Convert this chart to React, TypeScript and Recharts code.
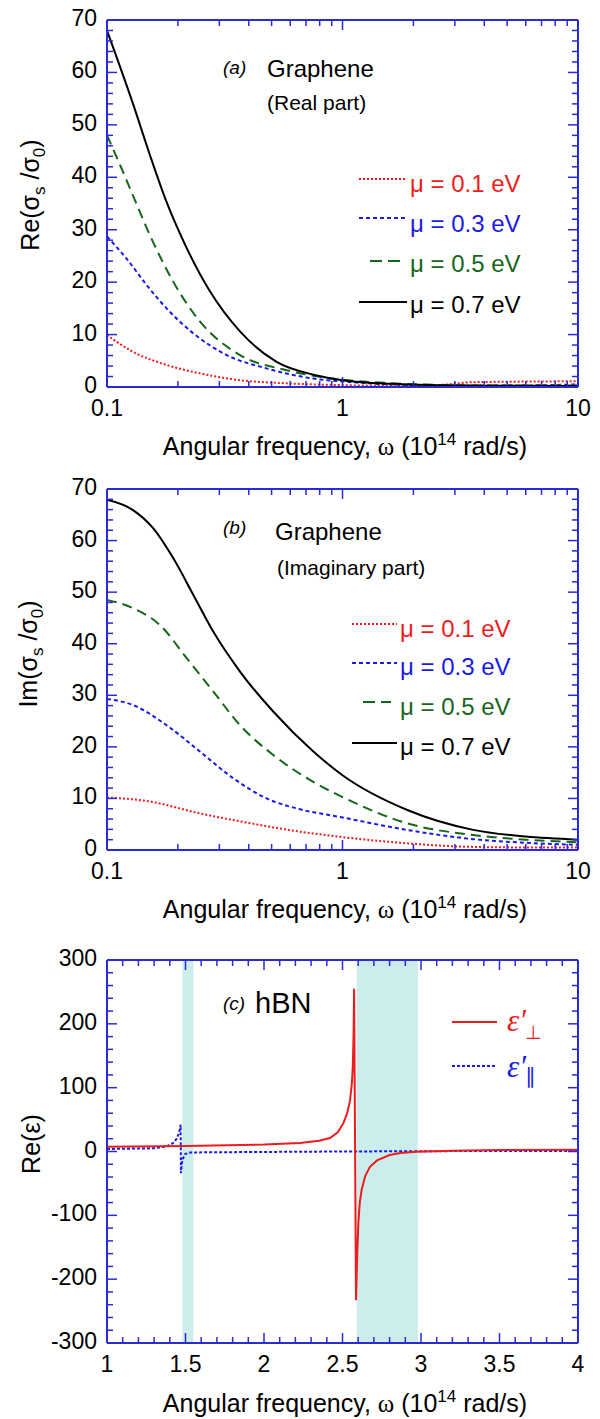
import React from "react";
import { LineChart, Line, XAxis, YAxis, ReferenceArea } from "recharts";

const FONT = "'Liberation Sans', Arial, Helvetica, sans-serif";
const SERIF = "'Liberation Serif', 'Times New Roman', serif";
const AXIS = "#2a2ad8";
const RED = "#ee1c1c";
const BLUE = "#1a1ae6";
const GREEN = "#16661a";
const BLACK = "#000000";

// (a) Re(sigma_s/sigma_0) vs omega, [omega, value]
const reMu01 = [[0.1, 9.9], [0.129, 6.7], [0.179, 4.2], [0.248, 2.6], [0.367, 1.3], [0.579, 0.7], [1, 0.35], [2, 0.2], [2.8, 0.5], [3.5, 0.9], [5, 1.0], [10, 1.1]];
const reMu03 = [[0.1, 28.7], [0.121, 24.5], [0.147, 19.5], [0.179, 15], [0.233, 10.2], [0.322, 6.1], [0.476, 3.55], [0.752, 1.6], [1.04, 1.0], [1.6, 0.5], [3, 0.3], [6, 0.3], [10, 0.5]];
const reMu05 = [[0.1, 48], [0.114, 42.2], [0.129, 36.5], [0.152, 29], [0.191, 20.1], [0.248, 12.5], [0.367, 6.1], [0.579, 3.2], [0.91, 1.6], [1.5, 0.8], [2.5, 0.4], [4, 0.3], [10, 0.3]];
const reMu07 = [[0.1, 68], [0.129, 54], [0.152, 44.3], [0.179, 35.3], [0.218, 26.5], [0.274, 18.2], [0.367, 10.6], [0.525, 4.8], [0.777, 2.2], [1.04, 1.2], [1.6, 0.6], [2.5, 0.35], [4, 0.25], [10, 0.2]];

// (b) Im(sigma_s/sigma_0)
const imMu01 = [[0.1, 10.2], [0.152, 9.4], [0.248, 7.1], [0.405, 5.2], [0.66, 3.55], [1.0, 2.5], [1.874, 1.3], [3.59, 0.6], [6, 0.5], [10, 0.5]];
const imMu03 = [[0.1, 29.3], [0.129, 28.1], [0.179, 24.2], [0.248, 19.1], [0.344, 13.9], [0.476, 10], [0.66, 7.9], [0.976, 6.4], [1.874, 3.9], [3.59, 2.1], [6, 1.4], [10, 1.0]];
const imMu05 = [[0.1, 48.5], [0.129, 46.9], [0.168, 43.6], [0.218, 37.2], [0.283, 30.7], [0.367, 24.2], [0.509, 18.4], [0.752, 13.2], [1.04, 9.9], [1.874, 5.2], [3.59, 2.9], [6, 2.0], [10, 1.5]];
const imMu07 = [[0.1, 67.9], [0.129, 65.9], [0.157, 62.4], [0.191, 56.6], [0.233, 49.4], [0.283, 42.3], [0.367, 34.6], [0.509, 26.8], [0.752, 19.1], [1.0, 14.5], [1.874, 7.8], [3.59, 3.9], [6, 2.6], [10, 2.0]];

const muLabels = ["μ = 0.1 eV", "μ = 0.3 eV", "μ = 0.5 eV", "μ = 0.7 eV"];
const muColors = [RED, BLUE, GREEN, BLACK];
const muDash = ["2 2", "4 3", "10 6", undefined];

// (c) hBN Re(eps)
const epsPerp = [[1, 7.5], [1.5, 8.5], [2, 11], [2.23, 13.5], [2.35, 17], [2.42, 21], [2.47, 30], [2.505, 44], [2.53, 60], [2.548, 80], [2.56, 108], [2.566, 135], [2.571, 190], [2.574, 255], [2.586, -233], [2.594, -160], [2.601, -112], [2.61, -80], [2.622, -60], [2.645, -38], [2.675, -24], [2.72, -14], [2.8, -5.5], [2.87, -2.5], [2.97, -0.3], [3.2, 1.3], [3.5, 2.2], [4, 2.8]];
const epsPar = [[1, 4], [1.3, 5], [1.38, 8], [1.42, 13], [1.444, 20], [1.46, 30], [1.469, 42], [1.471, -34], [1.476, -20], [1.482, -12], [1.497, -4], [1.53, -1.5], [1.8, -1], [2.5, 0], [3, 0.5], [4, 1]];
const bandStart = [1.48, 2.59];
const bandEnd = [1.55, 2.98];

const logTicks = [0.1, 0.2, 0.3, 0.4, 0.5, 0.6, 0.7, 0.8, 0.9, 1, 2, 3, 4, 5, 6, 7, 8, 9, 10];
const logMajor = [0.1, 1, 10];

const steps = (a: number, b: number, d: number) =>
  Array.from({ length: Math.round((b - a) / d) + 1 }, (_, i) => +(a + i * d).toFixed(6));
const near = (v: number, step: number) => Math.abs(v / step - Math.round(v / step)) < 1e-6;

const sigmaTicks = steps(0, 70, 2);
const epsTicks = steps(-300, 300, 20);
const linTicks = steps(1, 4, 0.1);

const toPts = (arr: number[][]) => arr.map(([x, y]) => ({ x, y }));

type Side = "bottom" | "top" | "left" | "right";

function makeTick(side: Side, isMajor: (v: number) => boolean, showLabel: boolean) {
  return (p: any) => {
    const { x, y, payload } = p;
    const v = payload.value;
    const major = isMajor(v);
    const len = major ? 10 : 6;
    let l;
    if (side === "bottom") l = <line x1={x} x2={x} y1={y} y2={y - len} />;
    else if (side === "top") l = <line x1={x} x2={x} y1={y} y2={y + len} />;
    else if (side === "left") l = <line x1={x} x2={x + len} y1={y} y2={y} />;
    else l = <line x1={x} x2={x - len} y1={y} y2={y} />;
    let t = null;
    if (major && showLabel) {
      const s = String(v);
      if (side === "bottom")
        t = <text x={x} y={y + 29} textAnchor="middle" fontSize={23} fontFamily={FONT} fill="#000" stroke="none">{s}</text>;
      else
        t = <text x={x - 10} y={y + 6} textAnchor="end" fontSize={23} fontFamily={FONT} fill="#000" stroke="none">{s}</text>;
    }
    return (
      <g stroke={AXIS} strokeWidth={1.5}>
        {l}
        {t}
      </g>
    );
  };
}

function frame(opts: {
  xLog: boolean;
  xDomain: [number, number];
  xTicks: number[];
  xMajor: (v: number) => boolean;
  yDomain: [number, number];
  yTicks: number[];
  yMajor: (v: number) => boolean;
}) {
  const axisLine = { stroke: AXIS, strokeWidth: 2 };
  const common = { type: "number" as const, allowDataOverflow: true, tickSize: 0, tickMargin: 0, interval: 0 as const, axisLine, tickLine: false };
  const xs = opts.xLog ? { scale: "log" as const } : {};
  return [
    <XAxis key="xb" xAxisId="b" dataKey="x" orientation="bottom" height={1} domain={opts.xDomain} ticks={opts.xTicks} tick={makeTick("bottom", opts.xMajor, true)} {...xs} {...common} />,
    <XAxis key="xt" xAxisId="t" dataKey="x" orientation="top" height={1} domain={opts.xDomain} ticks={opts.xTicks} tick={makeTick("top", opts.xMajor, false)} {...xs} {...common} />,
    <YAxis key="yl" yAxisId="l" orientation="left" width={1} domain={opts.yDomain} ticks={opts.yTicks} tick={makeTick("left", opts.yMajor, true)} {...common} />,
    <YAxis key="yr" yAxisId="r" orientation="right" width={1} domain={opts.yDomain} ticks={opts.yTicks} tick={makeTick("right", opts.yMajor, false)} {...common} />,
  ];
}

function xTitle(cx: number, baseline: number) {
  return (
    <text x={cx} y={baseline} textAnchor="middle" fontSize={25} fontFamily={FONT} fill="#000">
      Angular frequency, <tspan fontFamily={SERIF}>ω</tspan> (10
      <tspan dy={-10} fontSize={17}>14</tspan>
      <tspan dy={10}> rad/s)</tspan>
    </text>
  );
}

function sigmaTitle(prefix: string, cx: number, cy: number) {
  return (
    <text x={cx} y={cy} transform={`rotate(-90 ${cx} ${cy})`} textAnchor="middle" fontSize={25} fontFamily={FONT} fill="#000">
      {prefix}(σ<tspan dy={6} fontSize={17}>s</tspan>
      <tspan dy={-6}> /σ</tspan>
      <tspan dy={6} fontSize={17}>0</tspan>
      <tspan dy={-6}>)</tspan>
    </text>
  );
}

function muLegend(textX: number, lineX1: number, lineX2: number, baselines: number[], lineYs: number[]) {
  return muLabels.map((lab, i) => (
    <g key={"lg" + i}>
      <line
        x1={i === 2 ? lineX1 + 11 : lineX1}
        x2={i === 2 ? lineX2 - 6 : lineX2}
        y1={lineYs[i]}
        y2={lineYs[i]}
        stroke={muColors[i]}
        strokeWidth={2}
        strokeDasharray={i === 2 ? "12 6" : muDash[i]}
      />
      <text x={textX} y={baselines[i]} fontSize={24} fontFamily={FONT} fill={muColors[i]}>
        {lab}
      </text>
    </g>
  ));
}

function muLines(sets: number[][][]) {
  return sets.map((s, i) => (
    <Line
      key={"s" + i}
      xAxisId="b"
      yAxisId="l"
      data={toPts(s)}
      dataKey="y"
      type="monotone"
      stroke={muColors[i]}
      strokeWidth={2}
      strokeDasharray={muDash[i]}
      dot={false}
      activeDot={false}
      isAnimationActive={false}
    />
  ));
}

const logFrame = {
  xLog: true,
  xDomain: [0.1, 10] as [number, number],
  xTicks: logTicks,
  xMajor: (v: number) => logMajor.includes(v),
  yDomain: [0, 70] as [number, number],
  yTicks: sigmaTicks,
  yMajor: (v: number) => near(v, 10),
};

function PanelA() {
  return (
    <LineChart width={600} height={465} margin={{ top: 19, right: 21, bottom: 77, left: 106 }} style={{ fontFamily: FONT }}>
      {frame(logFrame)}
      {muLines([reMu01, reMu03, reMu05, reMu07])}
      <text x={223} y={74} fontSize={19} fontStyle="italic" fontFamily={FONT}>(a)</text>
      <text x={267} y={77} fontSize={24} fontFamily={FONT}>Graphene</text>
      <text x={267} y={110} fontSize={21} fontFamily={FONT}>(Real part)</text>
      {muLegend(410, 359, 407, [192, 232, 272, 313], [179, 218, 261, 302])}
      {xTitle(345, 455)}
      {sigmaTitle("Re", 39, 195)}
    </LineChart>
  );
}

function PanelB() {
  return (
    <LineChart width={600} height={470} margin={{ top: 23, right: 21, bottom: 84, left: 106 }} style={{ fontFamily: FONT }}>
      {frame(logFrame)}
      {muLines([imMu01, imMu03, imMu05, imMu07])}
      <text x={223} y={69} fontSize={19} fontStyle="italic" fontFamily={FONT}>(b)</text>
      <text x={275} y={75} fontSize={24} fontFamily={FONT}>Graphene</text>
      <text x={277} y={110} fontSize={21} fontFamily={FONT}>(Imaginary part)</text>
      {muLegend(400, 352, 397, [172, 210, 250, 290], [159, 198, 237, 278])}
      {xTitle(345, 453)}
      {sigmaTitle("Im", 37, 189)}
    </LineChart>
  );
}

function PanelC() {
  return (
    <LineChart width={600} height={484} margin={{ top: 24, right: 21, bottom: 75, left: 106 }} style={{ fontFamily: FONT }}>
      {frame({
        xLog: false,
        xDomain: [1, 4],
        xTicks: linTicks,
        xMajor: (v: number) => near(v, 0.5),
        yDomain: [-300, 300],
        yTicks: epsTicks,
        yMajor: (v: number) => near(v, 100),
      })}
      {bandStart.map((b, i) => (
        <ReferenceArea key={"band" + i} xAxisId="b" yAxisId="l" x1={b} x2={bandEnd[i]} fill="#7fd3cc" fillOpacity={0.4} stroke="none" />
      ))}
      <Line xAxisId="b" yAxisId="l" data={toPts(epsPar)} dataKey="y" type="linear" stroke={BLUE} strokeWidth={2} strokeDasharray="3 2" dot={false} activeDot={false} isAnimationActive={false} />
      <Line xAxisId="b" yAxisId="l" data={toPts(epsPerp)} dataKey="y" type="linear" stroke={RED} strokeWidth={2} dot={false} activeDot={false} isAnimationActive={false} />
      <text x={223} y={75} fontSize={19} fontStyle="italic" fontFamily={FONT}>(c)</text>
      <text x={255} y={78} fontSize={29} fontFamily={FONT}>hBN</text>
      <line x1={452} x2={497} y1={87} y2={87} stroke={RED} strokeWidth={2} />
      <text x={507} y={96} fontSize={31} fontFamily={SERIF} fontStyle="italic" fill={RED}>
        ε′<tspan dx={-1} dy={8} fontSize={19} fontStyle="normal" fontFamily="'DejaVu Sans', sans-serif">⊥</tspan>
      </text>
      <line x1={452} x2={497} y1={131} y2={131} stroke={BLUE} strokeWidth={2} strokeDasharray="3 2" />
      <text x={507} y={142} fontSize={31} fontFamily={SERIF} fontStyle="italic" fill={BLUE}>
        ε′<tspan dx={-1} dy={6} fontSize={21} fontStyle="normal" fontFamily="'DejaVu Sans', sans-serif">∥</tspan>
      </text>
      {xTitle(345, 477)}
      <text x={40} y={209} transform="rotate(-90 40 209)" textAnchor="middle" fontSize={25} fontFamily={FONT} fill="#000">
        Re(ε)
      </text>
    </LineChart>
  );
}

export default function App() {
  return (
    <div style={{ position: "absolute", left: 0, top: 0, width: 600, height: 1419, background: "#fff" }}>
      <div style={{ position: "absolute", left: 0, top: 0 }}>
        <PanelA />
      </div>
      <div style={{ position: "absolute", left: 0, top: 465 }}>
        <PanelB />
      </div>
      <div style={{ position: "absolute", left: 0, top: 935 }}>
        <PanelC />
      </div>
    </div>
  );
}
